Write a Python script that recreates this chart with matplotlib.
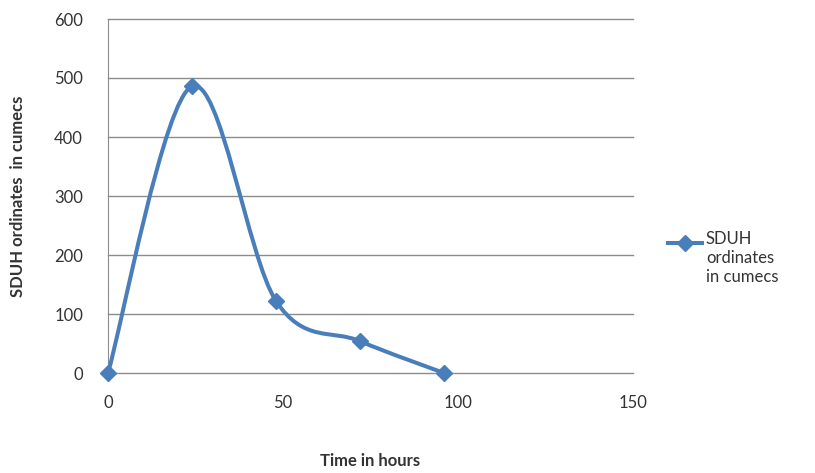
import numpy as np
import matplotlib.pyplot as plt
from matplotlib.path import Path
from matplotlib.patches import PathPatch
from matplotlib.lines import Line2D

# datos
tiempo_h = [0, 24, 48, 72, 96]
ordenadas = [0, 486, 122, 54, 0]
x_ticks = [0, 50, 100, 150]
y_ticks = [0, 100, 200, 300, 400, 500, 600]

AZUL = "#4A7EBB"
GRIS = "#8c8c8c"
plt.rcParams['font.family'] = ['Lato', 'DejaVu Sans']

fig = plt.figure(figsize=(8.15, 4.73), dpi=100)
ax = fig.add_axes([108 / 815, 1 - 373 / 473, (633 - 108) / 815, (373 - 19) / 473])
ax.set_xlim(0, 150)
ax.set_ylim(0, 600)

# curva suavizada tipo Excel (Bezier cúbico con tangentes de Catmull-Rom)
pts = np.column_stack([tiempo_h, ordenadas]).astype(float)
verts = [pts[0]]
codes = [Path.MOVETO]
n = len(pts)
for i in range(n - 1):
    p0 = pts[i - 1] if i > 0 else pts[i]
    p1, p2 = pts[i], pts[i + 1]
    p3 = pts[i + 2] if i + 2 < n else pts[i + 1]
    verts += [p1 + (p2 - p0) / 6, p2 - (p3 - p1) / 6, p2]
    codes += [Path.CURVE4] * 3
ax.add_patch(PathPatch(Path(verts, codes), fill=False, edgecolor=AZUL,
                       lw=2.9, capstyle='round', joinstyle='round', zorder=3))
ax.plot(tiempo_h, ordenadas, linestyle='none', marker='D', ms=8.5,
        color=AZUL, zorder=4, clip_on=False)

ax.set_yticks(y_ticks)
ax.set_xticks(x_ticks)
# líneas de cuadrícula horizontales (incluida la de 0)
for y in y_ticks:
    ax.axhline(y, color=GRIS, lw=1, zorder=1, clip_on=False)
for s in ['top', 'right', 'bottom']:
    ax.spines[s].set_visible(False)
ax.spines['left'].set_color(GRIS)
ax.tick_params(length=0, labelsize=12, colors='#333333', pad=18)
ax.tick_params(axis='x', pad=16)

fig.text(370 / 815, 1 - 461 / 473, "Time in hours", ha='center', va='center',
         fontsize=12, fontweight='bold', color='#333333')
fig.text(18 / 815, 1 - 196 / 473, "SDUH ordinates  in cumecs", ha='center', va='center',
         rotation=90, fontsize=12, fontweight='bold', color='#333333')

# leyenda a mano
leg_y = 1 - 243 / 473
fig.add_artist(Line2D([668 / 815, 685 / 815, 702 / 815], [leg_y, leg_y, leg_y],
                      color=AZUL, lw=2.9, marker='D', ms=8.5, markevery=[1],
                      transform=fig.transFigure))
fig.text(706 / 815, 1 - 231 / 473, "SDUH\nordinates\nin cumecs", ha='left', va='top',
         fontsize=12, color='#333333', linespacing=1.25)

fig.savefig("out.png", dpi=100)
